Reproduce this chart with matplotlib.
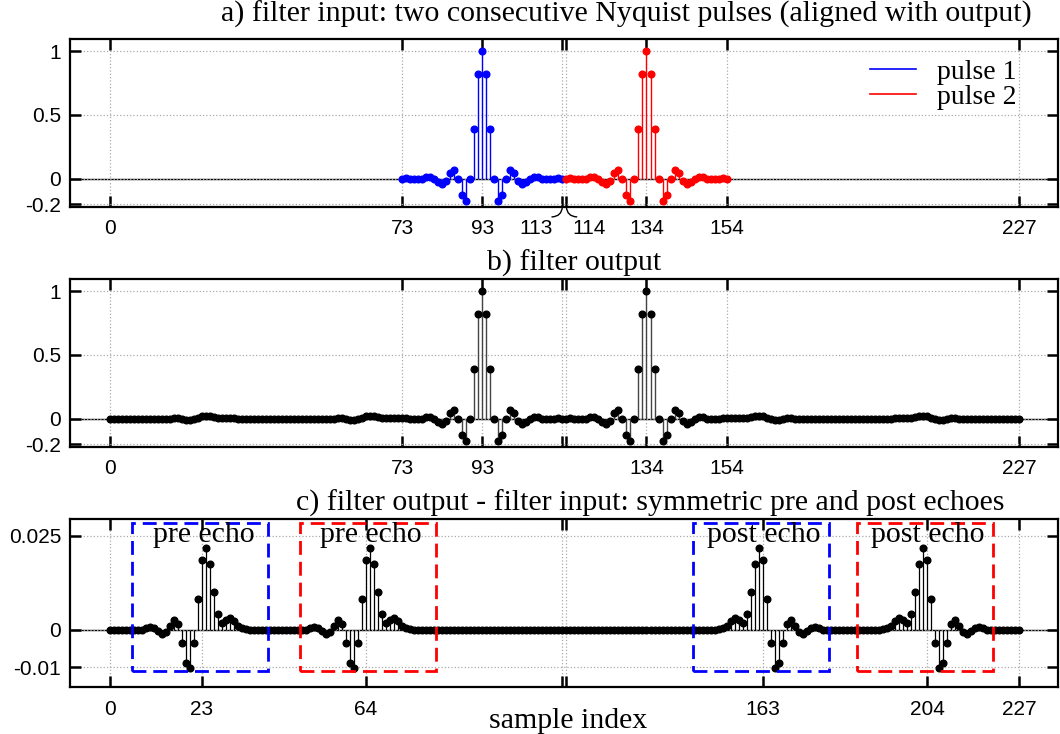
import numpy as np
import matplotlib
matplotlib.use("Agg")
import matplotlib.pyplot as plt
from matplotlib.patches import Rectangle

# Nyquist pulse samples, offsets -20 .. +20 around the peak
pulse_shape = [0.001, 0.002, 0.0, -0.003, -0.005, 0.0, 0.012, 0.016, 0.0, -0.028,
               -0.04, -0.02, 0.045, 0.07, 0.0, -0.125, -0.175, 0.0, 0.392, 0.817,
               1.0,
               0.817, 0.392, 0.0, -0.175, -0.125, 0.0, 0.07, 0.045, -0.02, -0.04,
               -0.028, 0.0, 0.016, 0.012, 0.0, -0.005, -0.003, 0.0, 0.002, 0.001]
pulse_starts = [73, 114]
pulse_colors = ["#0000ff", "#ff0000"]
pulse_labels = ["pulse 1", "pulse 2"]

# echo samples (output - input), offsets -16 .. +10 around the echo peak
pre_echo = [0.0, 0.0004, 0.0008, 0.0004, -0.0004, -0.0012, -0.0005, 0.001, 0.0026,
            0.0015, -0.0035, -0.009, -0.0101, -0.0035, 0.0082, 0.0187, 0.0218,
            0.0176, 0.010, 0.0041, 0.0019, 0.0027, 0.0032, 0.0023, 0.001, 0.0005,
            0.0002]
post_echo = pre_echo[::-1]
pre_peaks = [24, 65]
post_peaks = [162, 203]

n_samples = 228
n = np.arange(n_samples)

# echo boxes: (left, right, colour, text)
boxes = [(5.6, 39.6, "#0000ff", "pre echo"), (47.5, 81.5, "#ff0000", "pre echo"),
         (145.5, 179.5, "#0000ff", "post echo"), (186.5, 220.5, "#ff0000", "post echo")]

ticks_a = [0, 73, 93, 113, 114, 134, 154, 227]
ticks_b = [0, 73, 93, 113, 114, 134, 154, 227]
ticks_c = [0, 23, 64, 113, 114, 163, 204, 227]

# build the signals
pulses = []
for start in pulse_starts:
    p = np.zeros(n_samples)
    p[start:start + len(pulse_shape)] = pulse_shape
    pulses.append(p)
diff = np.zeros(n_samples)
for c in pre_peaks:
    diff[c - 16:c + 11] += pre_echo
for c in post_peaks:
    diff[c - 10:c + 17] += post_echo
output = pulses[0] + pulses[1] + diff

serif = "Liberation Serif"
sans = "Liberation Sans"
plt.rcParams["font.family"] = sans
title_size = 21.5
msize = 4.8

fig = plt.figure(figsize=(10.6, 7.34), dpi=100)
ax_a = fig.add_axes([0.0656, 0.7184, 0.9325, 0.2285])
ax_b = fig.add_axes([0.0656, 0.3914, 0.9325, 0.2285])
ax_c = fig.add_axes([0.0656, 0.0640, 0.9325, 0.2289])


def style_axes(ax, xticks, xlabels, yticks, ylabels, ylim):
    ax.set_xlim(-10, 236.7)
    ax.set_ylim(*ylim)
    ax.set_xticks(xticks)
    ax.set_xticklabels(xlabels)
    ax.set_yticks(yticks)
    ax.set_yticklabels(ylabels)
    ax.tick_params(direction="in", length=8, width=1.8, top=True, right=True,
                   labelsize=15, pad=6)
    ax.tick_params(axis="x", pad=9)
    for s in ax.spines.values():
        s.set_linewidth(1.6)
    ax.grid(True, color="#aaaaaa", linestyle=":", linewidth=0.9)
    ax.axhline(0, color="black", linewidth=1.0, zorder=1)


# a) filter input
style_axes(ax_a, ticks_a, ["0", "73", "93", "", "", "134", "154", "227"],
           [-0.2, 0, 0.5, 1], ["-0.2", "0", "0.5", "1"], (-0.22, 1.095))
for p, start, col, lab in zip(pulses, pulse_starts, pulse_colors, pulse_labels):
    idx = n[start:start + len(pulse_shape)]
    ax_a.vlines(idx, 0, p[idx], color=col, linewidth=1.0, zorder=2)
    ax_a.plot(idx, p[idx], "o", color=col, markersize=msize, zorder=3)
    ax_a.plot([], [], color=col, linewidth=1.2, label=lab)
ax_a.legend(loc="upper right", bbox_to_anchor=(0.958, 0.88), frameon=False,
            prop={"family": serif, "size": 20}, handlelength=1.65,
            handletextpad=0.75, labelspacing=0.0, borderpad=0, borderaxespad=0)

# split labels for the two adjacent ticks, joined to them by small arcs
ax_a.text(106.5, -0.39, "113", ha="center", va="center", fontsize=15)
ax_a.text(119.6, -0.39, "114", ha="center", va="center", fontsize=15)
ax_a.annotate("", xy=(113, -0.22), xytext=(110.4, -0.3), annotation_clip=False,
              arrowprops=dict(arrowstyle="-", linewidth=1.0,
                              connectionstyle="arc3,rad=0.45", shrinkA=0, shrinkB=0))
ax_a.annotate("", xy=(114, -0.22), xytext=(116.6, -0.3), annotation_clip=False,
              arrowprops=dict(arrowstyle="-", linewidth=1.0,
                              connectionstyle="arc3,rad=-0.45", shrinkA=0, shrinkB=0))
ax_a.text(0.563, 1.145, "a) filter input: two consecutive Nyquist pulses (aligned with output)",
          transform=ax_a.transAxes, ha="center", va="center", family=serif,
          fontsize=title_size)

# b) filter output
style_axes(ax_b, ticks_b, ["0", "73", "93", "", "", "134", "154", "227"],
           [-0.2, 0, 0.5, 1], ["-0.2", "0", "0.5", "1"], (-0.22, 1.095))
ax_b.vlines(n, 0, output, color="#444444", linewidth=1.0, zorder=2)
ax_b.plot(n, output, "o", color="black", markersize=msize, zorder=3)
ax_b.text(0.510, 1.095, "b) filter output", transform=ax_b.transAxes,
          ha="center", va="center", family=serif, fontsize=title_size)

# c) difference with echo boxes
style_axes(ax_c, ticks_c, ["0", "23", "64", "", "", "163", "204", "227"],
           [-0.01, 0, 0.025], ["-0.01", "0", "0.025"], (-0.0153, 0.0295))
ax_c.vlines(n, 0, diff, color="black", linewidth=0.9, zorder=2)
ax_c.plot(n, diff, "o", color="black", markersize=msize, zorder=3)
for left, right, col, txt in boxes:
    ax_c.add_patch(Rectangle((left, -0.0111), right - left, 0.0396, fill=False,
                             edgecolor=col, linewidth=2.0,
                             linestyle=(0, (5, 2.5)), zorder=4))
    ax_c.text((left + right) / 2 + 0.8, 0.0253, txt, ha="center", va="center",
              family=serif, fontsize=title_size, zorder=5)
ax_c.text(0.588, 1.095, "c) filter output - filter input: symmetric pre and post echoes",
          transform=ax_c.transAxes, ha="center", va="center", family=serif,
          fontsize=title_size)
ax_c.text(0.504, -0.2, "sample index", transform=ax_c.transAxes, ha="center",
          va="center", family=serif, fontsize=title_size)

fig.savefig("out.png", dpi=100)
